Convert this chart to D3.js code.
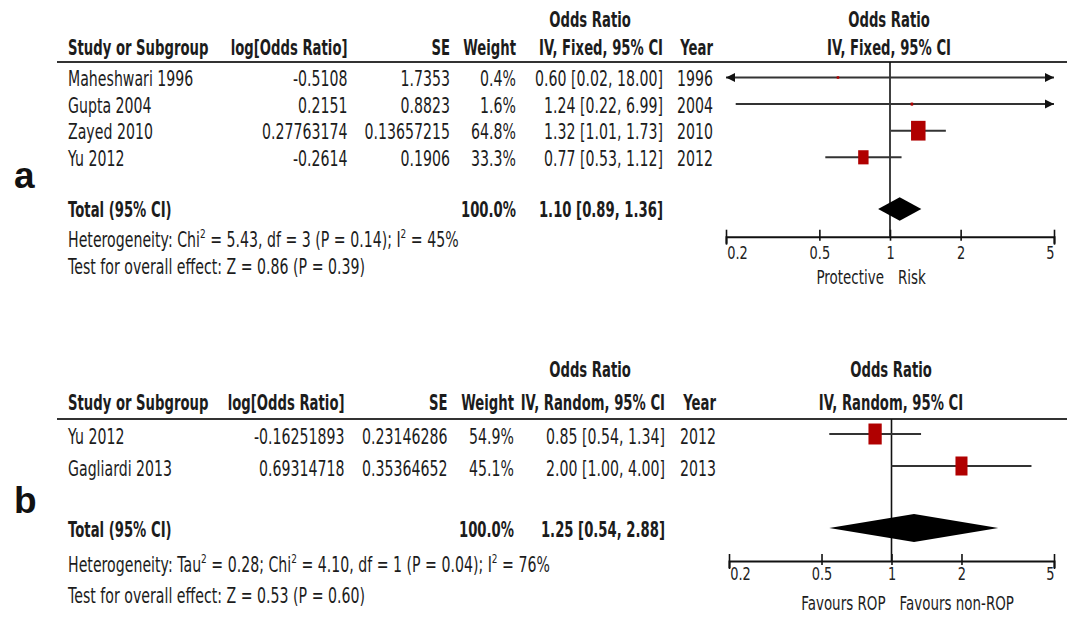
<!DOCTYPE html>
<html><head><meta charset="utf-8">
<script src="https://cdn.jsdelivr.net/npm/d3@7"></script>
<style>
body{margin:0;background:#fff}
text{font-family:"DejaVu Sans",Verdana,sans-serif;fill:#1c1c1c}
</style>
</head><body>
<svg id="c" width="1072" height="619"></svg>
<script>
// ---------- DATA ----------
const ticks = [0.2, 0.5, 1, 2, 5];

const studiesA = ["Maheshwari 1996", "Gupta 2004", "Zayed 2010", "Yu 2012"];
const logOrA   = ["-0.5108", "0.2151", "0.27763174", "-0.2614"];
const seA      = ["1.7353", "0.8823", "0.13657215", "0.1906"];
const weightA  = [0.4, 1.6, 64.8, 33.3];
const orA      = [0.60, 1.24, 1.32, 0.77];
const loA      = [0.02, 0.22, 1.01, 0.53];
const hiA      = [18.00, 6.99, 1.73, 1.12];
const yearA    = [1996, 2004, 2010, 2012];
const totalA   = [1.10, 0.89, 1.36];
const methodA  = "IV, Fixed, 95% CI";
const heteroA  = "Heterogeneity: Chi^2 = 5.43, df = 3 (P = 0.14); I^2 = 45%";
const testA    = "Test for overall effect: Z = 0.86 (P = 0.39)";
const favourA  = ["Protective", "Risk"];

const studiesB = ["Yu 2012", "Gagliardi 2013"];
const logOrB   = ["-0.16251893", "0.69314718"];
const seB      = ["0.23146286", "0.35364652"];
const weightB  = [54.9, 45.1];
const orB      = [0.85, 2.00];
const loB      = [0.54, 1.00];
const hiB      = [1.34, 4.00];
const yearB    = [2012, 2013];
const totalB   = [1.25, 0.54, 2.88];
const methodB  = "IV, Random, 95% CI";
const heteroB  = "Heterogeneity: Tau^2 = 0.28; Chi^2 = 4.10, df = 1 (P = 0.04); I^2 = 76%";
const testB    = "Test for overall effect: Z = 0.53 (P = 0.60)";
const favourB  = ["Favours ROP", "Favours non-ROP"];

// ---------- DRAWING ----------
const svg = d3.select("#c");
const FS = 20.5, SX = 0.69, SXB = 0.645;
const f2 = d3.format(".2f");

function txt(g, x, y, s, o = {}) {
  const sx = o.sx != null ? o.sx : (o.bold ? SXB : SX);
  const t = g.append("text")
    .attr("transform", `translate(${x},${y}) scale(${sx},1)`)
    .attr("text-anchor", o.anchor || "start")
    .style("font-size", (o.fs || FS) + "px")
    .style("font-weight", o.bold ? "bold" : "normal");
  const parts = String(s).split("^2");
  parts.forEach((p, i) => {
    if (i > 0) {
      t.append("tspan").attr("dy", -8.5).style("font-size", "13px").text("2");
      t.append("tspan").attr("dy", 8.5).text(p);
    } else t.append("tspan").text(p);
  });
  return t;
}

function panel(cfg, d) {
  const g = svg.append("g");
  const L = cfg;
  // panel letter
  g.append("text").attr("x", 14).attr("y", L.letterY)
    .style("font-family", "'Liberation Sans',Arial,sans-serif")
    .style("font-weight", "bold").style("font-size", "37px").style("fill", "#111")
    .text(L.letter);

  // headers
  txt(g, L.orCenter, L.h1, "Odds Ratio", {bold: true, anchor: "middle"});
  txt(g, L.fCenter, L.h1, "Odds Ratio", {bold: true, anchor: "middle"});
  txt(g, 68, L.h2, "Study or Subgroup", {bold: true});
  txt(g, L.cLog, L.h2, "log[Odds Ratio]", {bold: true, anchor: "end"});
  txt(g, L.cSe, L.h2, "SE", {bold: true, anchor: "end"});
  txt(g, L.cW, L.h2, "Weight", {bold: true, anchor: "end"});
  txt(g, L.cOr, L.h2, d.method, {bold: true, anchor: "end"});
  txt(g, L.cYear, L.h2, "Year", {bold: true, anchor: "end"});
  txt(g, L.fCenter, L.h2, d.method, {bold: true, anchor: "middle"});

  g.append("line").attr("x1", 57).attr("x2", 1067).attr("y1", L.lineY).attr("y2", L.lineY)
    .attr("stroke", "#333").attr("stroke-width", 2.2);

  const rowY = i => L.row0 + i * L.rowStep;

  // rows text
  d.studies.forEach((s, i) => {
    const y = rowY(i);
    txt(g, 68, y, s);
    txt(g, L.cLog, y, d.logOr[i], {anchor: "end"});
    txt(g, L.cSe, y, d.se[i], {anchor: "end"});
    txt(g, L.cW, y, d.weight[i].toFixed(1) + "%", {anchor: "end"});
    txt(g, L.cOr, y, `${f2(d.or[i])} [${f2(d.lo[i])}, ${f2(d.hi[i])}]`, {anchor: "end"});
    txt(g, L.cYear, y, d.year[i], {anchor: "end"});
  });

  // total
  txt(g, 68, L.totalY, "Total (95% CI)", {bold: true});
  txt(g, L.cW, L.totalY, "100.0%", {bold: true, anchor: "end"});
  txt(g, L.cOr, L.totalY, `${f2(d.total[0])} [${f2(d.total[1])}, ${f2(d.total[2])}]`, {bold: true, anchor: "end"});
  txt(g, 68, L.hetY, d.hetero);
  txt(g, 68, L.testY, d.test);

  // forest
  const x = d3.scaleLog().domain([0.2, 5]).range(L.xRange);
  const w = d3.scaleSqrt().domain([0, 100]).range([0, L.sqW]);
  const h = d3.scaleSqrt().domain([0, 100]).range([0, L.sqH]);
  const sw = v => Math.max(2.5, w(v)), sh = v => Math.max(2.5, h(v));
  const [d0, d1] = x.domain();
  const off = L.markOff;

  g.append("line").attr("x1", x(1)).attr("x2", x(1)).attr("y1", L.lineY).attr("y2", L.axisY)
    .attr("stroke", "#111").attr("stroke-width", 1.6);

  const rows = d.studies.map((s, i) => ({i, or: d.or[i], lo: d.lo[i], hi: d.hi[i], wt: d.weight[i]}));
  g.selectAll(".ci").data(rows).join("line")
    .attr("x1", r => x(Math.max(r.lo, d0))).attr("x2", r => x(Math.min(r.hi, d1)))
    .attr("y1", r => rowY(r.i) - off).attr("y2", r => rowY(r.i) - off)
    .attr("stroke", "#333").attr("stroke-width", 2);

  const AL = 9, AH = 4.5;
  rows.forEach(r => {
    const y = rowY(r.i) - off;
    if (r.lo < d0) g.append("path").attr("d", `M${x(d0)},${y}L${x(d0) + AL},${y - AH}L${x(d0) + AL},${y + AH}Z`).attr("fill", "#111");
    if (r.hi > d1) g.append("path").attr("d", `M${x(d1)},${y}L${x(d1) - AL},${y - AH}L${x(d1) - AL},${y + AH}Z`).attr("fill", "#111");
  });

  g.selectAll(".sq").data(rows).join("rect")
    .attr("x", r => x(r.or) - sw(r.wt) / 2).attr("y", r => rowY(r.i) - off - sh(r.wt) / 2)
    .attr("width", r => sw(r.wt)).attr("height", r => sh(r.wt))
    .attr("fill", "#b00000");

  const cy = L.diaY, dh = L.diaH / 2;
  g.append("path")
    .attr("d", `M${x(d.total[1])},${cy}L${x(d.total[0])},${cy - dh}L${x(d.total[2])},${cy}L${x(d.total[0])},${cy + dh}Z`)
    .attr("fill", "#000");

  // axis
  const ax = g.append("g").attr("transform", `translate(0,${L.axisY})`)
    .call(d3.axisBottom(x).tickValues(ticks).tickSizeOuter(0).tickSize(7).tickFormat(d3.format("~g")));
  ax.select(".domain").attr("stroke", "#111").attr("stroke-width", 2);
  ax.selectAll(".tick line").attr("stroke", "#111").attr("stroke-width", 1.6)
    .attr("y1", -7).attr("y2", (v, i) => (i === 0 || i === ticks.length - 1) ? 8 : 4);
  const n = ticks.length;
  ax.selectAll(".tick text")
    .attr("y", null).attr("dy", null)
    .attr("transform", `translate(0,${L.tickLabOff}) scale(0.74,1)`)
    .attr("text-anchor", (v, i) => i === 0 ? "start" : (i === n - 1 ? "end" : "middle"))
    .attr("x", (v, i) => i === 0 ? 1 : 0)
    .style("font-family", "'DejaVu Sans',Verdana,sans-serif")
    .style("font-size", "17.5px").style("fill", "#222");

  txt(g, x(1) - 6, L.favY, d.favour[0], {anchor: "end", fs: 19.5});
  txt(g, x(1) + 8, L.favY, d.favour[1], {anchor: "start", fs: 19.5});
}

panel({
  letter: "a", letterY: 188,
  h1: 27, h2: 55, lineY: 62,
  row0: 86, rowStep: 26.6, markOff: 8.5,
  totalY: 216.7, hetY: 246.7, testY: 274,
  cLog: 347.5, cSe: 450, cW: 516, cOr: 663, cYear: 713, orCenter: 590,
  xRange: [726, 1054], fCenter: 889,
  sqW: 18, sqH: 24.5,
  diaY: 209, diaH: 23.7,
  axisY: 236.7, tickLabOff: 22.6, favY: 284
}, {
  studies: studiesA, logOr: logOrA, se: seA, weight: weightA, or: orA, lo: loA, hi: hiA,
  year: yearA, total: totalA, method: methodA, hetero: heteroA, test: testA, favour: favourA
});

panel({
  letter: "b", letterY: 513,
  h1: 377, h2: 410, lineY: 419,
  row0: 444, rowStep: 32, markOff: 10,
  totalY: 536.7, hetY: 571.7, testY: 603,
  cLog: 344.5, cSe: 447.5, cW: 514, cOr: 665, cYear: 716, orCenter: 590,
  xRange: [729, 1054], fCenter: 891,
  sqW: 17.9, sqH: 28.3,
  diaY: 528, diaH: 28,
  axisY: 561, tickLabOff: 19, favY: 610
}, {
  studies: studiesB, logOr: logOrB, se: seB, weight: weightB, or: orB, lo: loB, hi: hiB,
  year: yearB, total: totalB, method: methodB, hetero: heteroB, test: testB, favour: favourB
});
</script>
</body></html>
